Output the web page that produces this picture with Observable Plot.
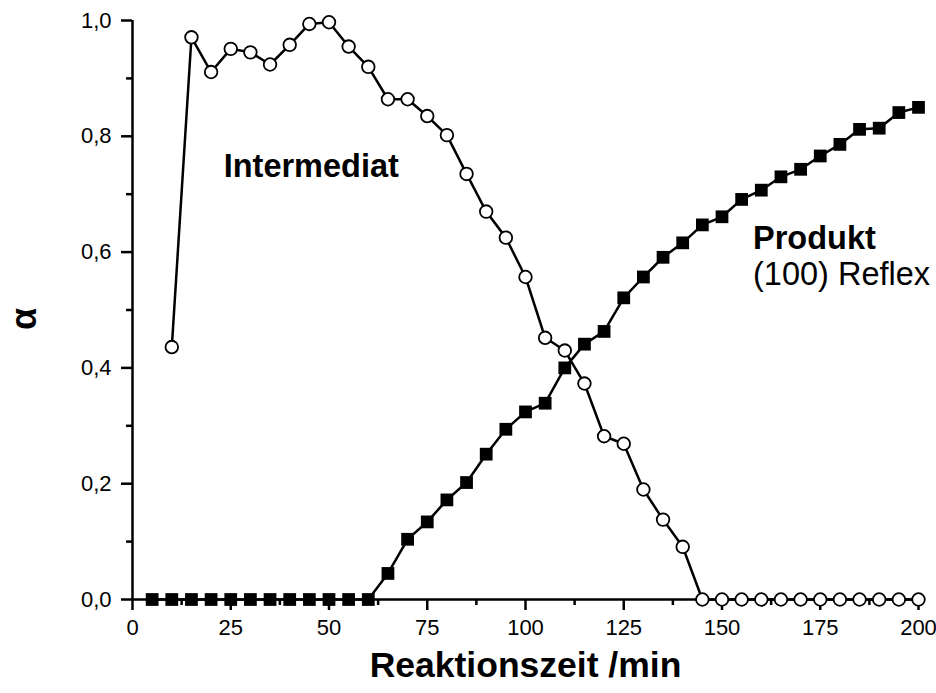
<!DOCTYPE html>
<html><head><meta charset="utf-8">
<script src="https://cdn.jsdelivr.net/npm/d3@7"></script>
<script src="https://cdn.jsdelivr.net/npm/@observablehq/plot@0.6"></script>
<style>
body{margin:0;background:#fff}
</style>
</head><body><div id="chart"></div>
<script>
// --- data ---
const intermediatTime = [10,15,20,25,30,35,40,45,50,55,60,65,70,75,80,85,90,95,100,105,110,115,120,125,130,135,140,145,150,155,160,165,170,175,180,185,190,195,200];
const intermediatAlpha = [0.436,0.971,0.911,0.951,0.945,0.924,0.958,0.994,0.997,0.955,0.920,0.864,0.864,0.835,0.802,0.735,0.670,0.625,0.557,0.452,0.430,0.373,0.282,0.269,0.190,0.138,0.091,0,0,0,0,0,0,0,0,0,0,0,0];
const produktTime = [5,10,15,20,25,30,35,40,45,50,55,60,65,70,75,80,85,90,95,100,105,110,115,120,125,130,135,140,145,150,155,160,165,170,175,180,185,190,195,200];
const produktAlpha = [0,0,0,0,0,0,0,0,0,0,0,0,0.045,0.104,0.134,0.172,0.202,0.251,0.294,0.324,0.339,0.400,0.441,0.463,0.521,0.557,0.591,0.616,0.647,0.661,0.691,0.707,0.730,0.743,0.766,0.786,0.812,0.814,0.841,0.850];
const xTicks = [0,25,50,75,100,125,150,175,200];
const xMinorTicks = [12.5,37.5,62.5,87.5,112.5,137.5,162.5,187.5];
const yTicks = [0,0.2,0.4,0.6,0.8,1.0];
const yMinorTicks = [0.1,0.3,0.5,0.7,0.9];
const xTitle = "Reaktionszeit /min";
const yTitle = "α";
const boldLabels = ["Intermediat","Produkt"];
const boldLabelX = [23.2,157.9];
const boldLabelY = [0.747,0.624];
const plainLabels = ["(100) Reflex"];
const plainLabelX = [157.9];
const plainLabelY = [0.562];

// --- tables ---
const intermediat = intermediatTime.map((t,i)=>({t, a: intermediatAlpha[i]}));
const produkt = produktTime.map((t,i)=>({t, a: produktAlpha[i]}));
const boldAnn = boldLabels.map((s,i)=>({s, x: boldLabelX[i], y: boldLabelY[i]}));
const plainAnn = plainLabels.map((s,i)=>({s, x: plainLabelX[i], y: plainLabelY[i]}));
const fmt = d => d.toFixed(1).replace(".", ",");
const FONT = "'Liberation Sans', Arial, Helvetica, sans-serif";

const chart = Plot.plot({
  width: 936,
  height: 693,
  marginLeft: 132,
  marginRight: 18,
  marginTop: 20,
  marginBottom: 94,
  style: {fontFamily: FONT, background: "#fff", overflow: "visible", color: "#000"},
  x: {domain: [0, 200]},
  y: {domain: [0, 1]},
  marks: [
    Plot.ruleY([0], {stroke: "#000", strokeWidth: 2.5}),
    Plot.ruleX([0], {stroke: "#000", strokeWidth: 2.5}),
    Plot.axisX({ticks: xTicks, tickSize: 11, tickPadding: 9, stroke: "#000", strokeWidth: 2.5, fontSize: 22, tickFormat: d => String(d), label: null}),
    Plot.axisX({ticks: xMinorTicks, tickSize: 6, stroke: "#000", strokeWidth: 2.5, tickFormat: () => "", label: null}),
    Plot.axisY({ticks: yTicks, tickSize: 11, tickPadding: 10, stroke: "#000", strokeWidth: 2.5, fontSize: 22, tickFormat: fmt, label: null}),
    Plot.axisY({ticks: yMinorTicks, tickSize: 6, stroke: "#000", strokeWidth: 2.5, tickFormat: () => "", label: null}),
    Plot.line(produkt, {x: "t", y: "a", stroke: "#000", strokeWidth: 2.5}),
    Plot.line(intermediat, {x: "t", y: "a", stroke: "#000", strokeWidth: 2.5}),
    Plot.dot(produkt, {x: "t", y: "a", symbol: "square", r: 7.2, fill: "#000", stroke: "none"}),
    Plot.dot(intermediat, {x: "t", y: "a", symbol: "circle", r: 6.3, fill: "#fff", stroke: "#000", strokeWidth: 1.8}),
    Plot.text(boldAnn, {x: "x", y: "y", text: "s", textAnchor: "start", fontSize: 32.5, fontWeight: "bold", fill: "#000"}),
    Plot.text(plainAnn, {x: "x", y: "y", text: "s", textAnchor: "start", fontSize: 32.5, fill: "#000"}),
    Plot.text([xTitle], {frameAnchor: "bottom", dy: 77, fontSize: 35.5, fontWeight: "bold", fill: "#000"}),
    Plot.text([yTitle], {frameAnchor: "left", dx: -108, dy: 20, rotate: -90, fontSize: 36, fontWeight: "bold", fill: "#000"})
  ]
});
document.getElementById("chart").appendChild(chart);
</script>
</body></html>
